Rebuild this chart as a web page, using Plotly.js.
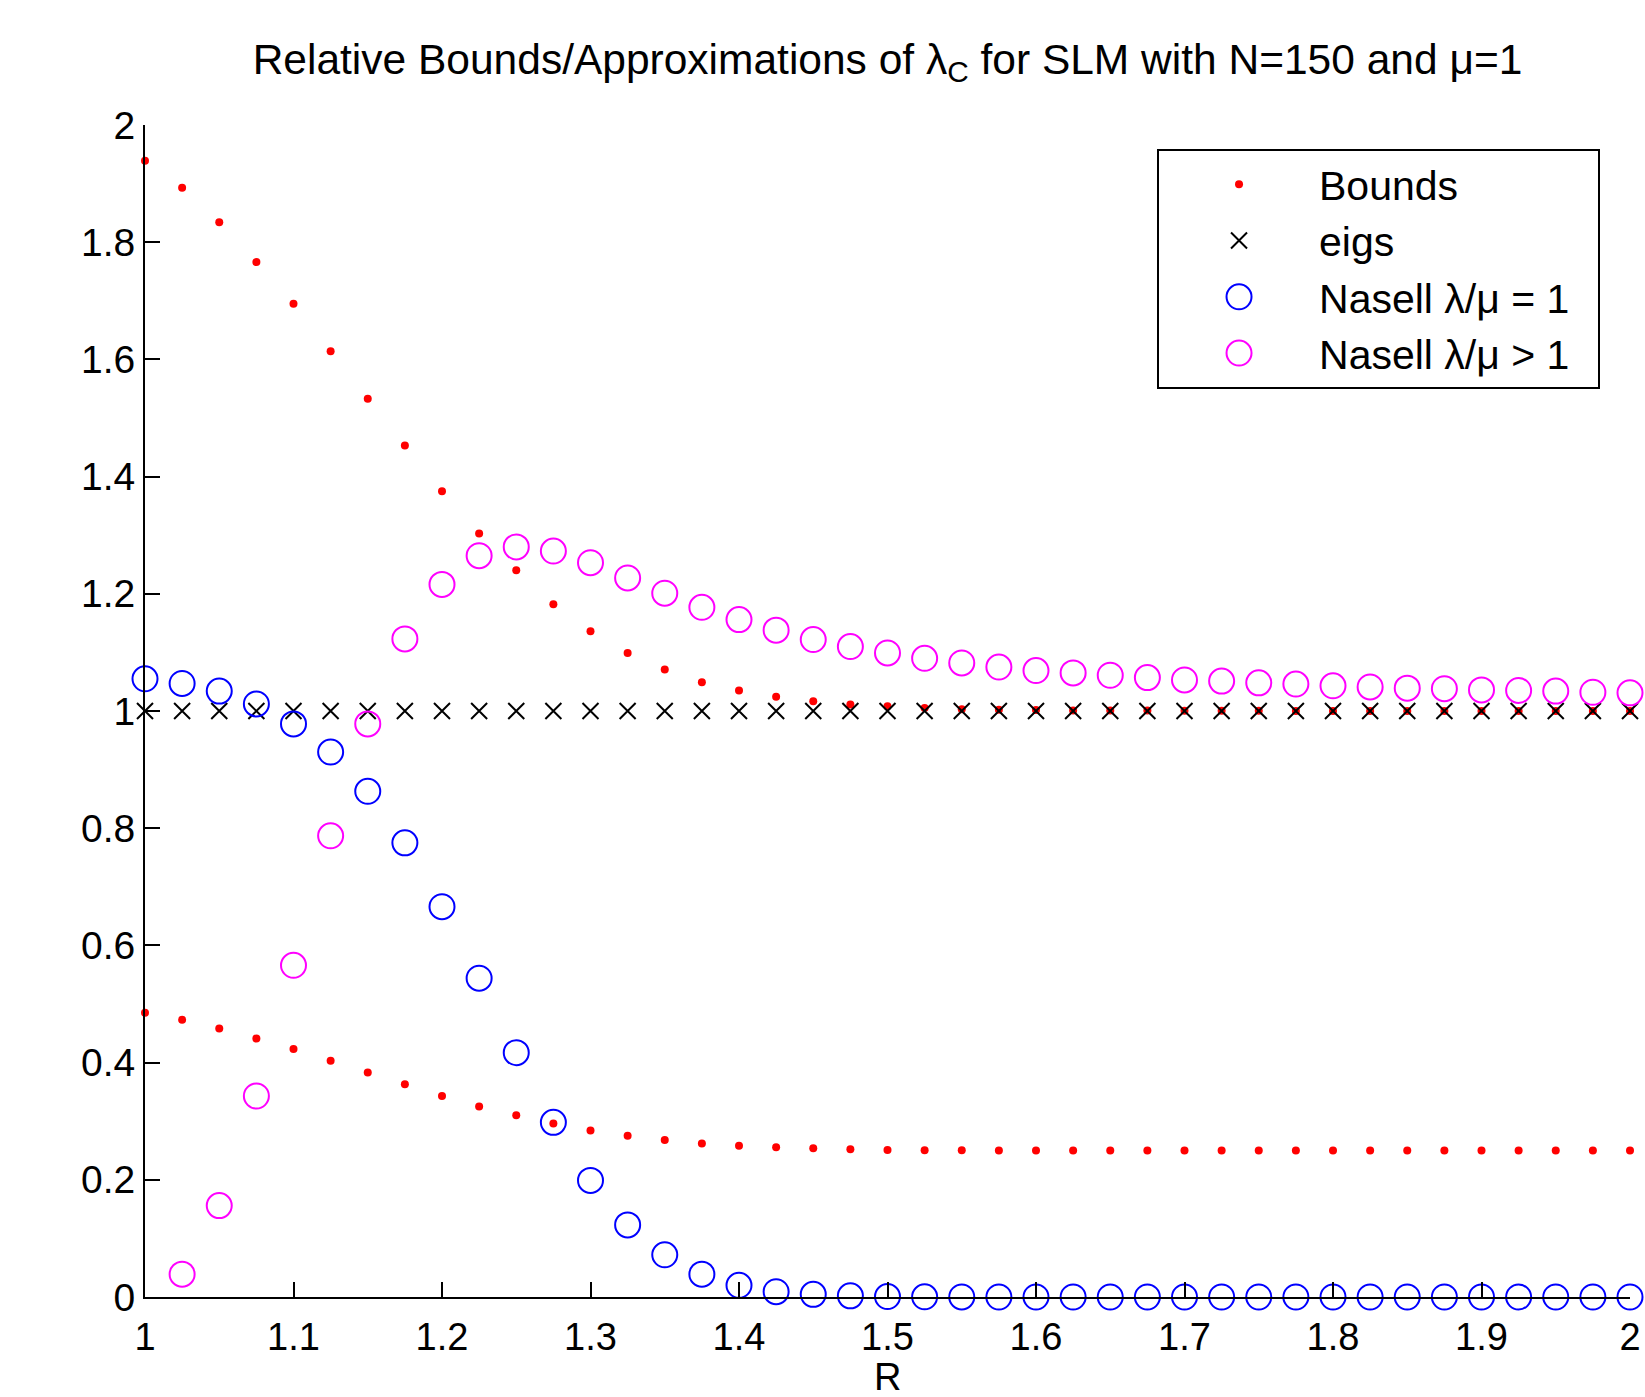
<!DOCTYPE html>
<html>
<head>
<meta charset="utf-8">
<script src="https://cdn.plot.ly/plotly-3.0.1.min.js"></script>
<style>
  html, body { margin: 0; padding: 0; background: #fff; }
  #chart { width: 1645px; height: 1397px; }
</style>
</head>
<body>
<div id="chart"></div>
<script>
// R values (x)
const R = [1.000, 1.025, 1.050, 1.075, 1.100, 1.125, 1.150, 1.175, 1.200, 1.225,
           1.250, 1.275, 1.300, 1.325, 1.350, 1.375, 1.400, 1.425, 1.450, 1.475,
           1.500, 1.525, 1.550, 1.575, 1.600, 1.625, 1.650, 1.675, 1.700, 1.725,
           1.750, 1.775, 1.800, 1.825, 1.850, 1.875, 1.900, 1.925, 1.950, 1.975, 2.000];

// Upper relative bound
const upperBound = [1.939, 1.893, 1.834, 1.766, 1.695, 1.614, 1.533, 1.453, 1.375, 1.303,
                    1.240, 1.182, 1.136, 1.099, 1.071, 1.049, 1.035, 1.0245, 1.0165, 1.011,
                    1.008, 1.005, 1.003, 1.002, 1.0015, 1.001, 1.001, 1.0007, 1.0005, 1.0004,
                    1.0003, 1.0002, 1.0002, 1.0001, 1.0001, 1.0001, 1.0, 1.0, 1.0, 1.0, 1.0];

// Lower relative bound
const lowerBound = [0.485, 0.473, 0.458, 0.441, 0.423, 0.403, 0.383, 0.363, 0.343, 0.325,
                    0.310, 0.296, 0.284, 0.275, 0.268, 0.262, 0.258, 0.2555, 0.254, 0.252,
                    0.251, 0.2505, 0.2503, 0.2502, 0.2501, 0.2501, 0.25, 0.25, 0.25, 0.25,
                    0.25, 0.25, 0.25, 0.25, 0.25, 0.25, 0.25, 0.25, 0.25, 0.25, 0.25];

// eigs (relative, exact)
const eigs = [1, 1, 1, 1, 1, 1, 1, 1, 1, 1,
              1, 1, 1, 1, 1, 1, 1, 1, 1, 1,
              1, 1, 1, 1, 1, 1, 1, 1, 1, 1,
              1, 1, 1, 1, 1, 1, 1, 1, 1, 1, 1];

// Nasell approximation, lambda/mu = 1
const nasellEq = [1.055, 1.047, 1.034, 1.012, 0.978, 0.930, 0.863, 0.775, 0.666, 0.544,
                  0.417, 0.298, 0.199, 0.123, 0.072, 0.039, 0.020, 0.009, 0.0045, 0.002,
                  0.0008, 0.0003, 0.0001, 0, 0, 0, 0, 0, 0, 0,
                  0, 0, 0, 0, 0, 0, 0, 0, 0, 0, 0];

// Nasell approximation, lambda/mu > 1
const nasellGt = [null, 0.039, 0.156, 0.343, 0.566, 0.787, 0.978, 1.123, 1.216, 1.265,
                  1.280, 1.273, 1.253, 1.227, 1.201, 1.177, 1.156, 1.138, 1.122, 1.110,
                  1.099, 1.090, 1.082, 1.075, 1.069, 1.065, 1.061, 1.057, 1.053, 1.051,
                  1.048, 1.046, 1.043, 1.041, 1.039, 1.038, 1.036, 1.035, 1.034, 1.032, 1.031];

const xTickVals = [1, 1.1, 1.2, 1.3, 1.4, 1.5, 1.6, 1.7, 1.8, 1.9, 2];
const xTickText = ['1', '1.1', '1.2', '1.3', '1.4', '1.5', '1.6', '1.7', '1.8', '1.9', '2'];
const yTickVals = [0, 0.2, 0.4, 0.6, 0.8, 1, 1.2, 1.4, 1.6, 1.8, 2];
const yTickText = ['0', '0.2', '0.4', '0.6', '0.8', '1', '1.2', '1.4', '1.6', '1.8', '2'];

const FONT = 'Liberation Sans, Arial, Helvetica, sans-serif';
const NBSP = '\u00a0';

const traces = [
  { x: R, y: upperBound, type: 'scatter', mode: 'markers', name: 'Bounds',
    legendgroup: 'b', cliponaxis: false,
    marker: { symbol: 'circle', size: 8, color: '#ff0000' } },
  { x: R, y: lowerBound, type: 'scatter', mode: 'markers', name: 'Bounds',
    legendgroup: 'b', showlegend: false, cliponaxis: false,
    marker: { symbol: 'circle', size: 8, color: '#ff0000' } },
  { x: R, y: eigs, type: 'scatter', mode: 'markers', name: 'eigs', cliponaxis: false,
    marker: { symbol: 'x-thin', size: 16, color: '#000000', line: { color: '#000000', width: 2 } } },
  { x: R, y: nasellEq, type: 'scatter', mode: 'markers', name: 'Nasell λ/μ = 1' + NBSP + NBSP, cliponaxis: false,
    marker: { symbol: 'circle-open', size: 25, color: '#0000ff', line: { color: '#0000ff', width: 2 } } },
  { x: R, y: nasellGt, type: 'scatter', mode: 'markers', name: 'Nasell λ/μ > 1' + NBSP + NBSP, cliponaxis: false,
    marker: { symbol: 'circle-open', size: 25, color: '#ff00ff', line: { color: '#ff00ff', width: 2 } } }
];

const layout = {
  width: 1645, height: 1397,
  margin: { l: 145, r: 15, t: 125, b: 100, pad: 0 },
  paper_bgcolor: '#ffffff', plot_bgcolor: '#ffffff',
  font: { family: FONT, color: '#000000', size: 38 },
  title: {
    text: 'Relative Bounds/Approximations of λ<sub>C</sub> for SLM with N=150 and μ=1',
    font: { family: FONT, size: 42.5, color: '#000000' },
    x: 0.5, xanchor: 'center', xref: 'paper',
    y: 0.958, yanchor: 'middle', yref: 'container'
  },
  xaxis: {
    range: [1, 2], autorange: false,
    tickmode: 'array', tickvals: xTickVals, ticktext: xTickText,
    ticks: 'inside', ticklen: 15, tickwidth: 2, tickcolor: '#000000',
    ticklabelstandoff: 5,
    showline: true, linecolor: '#000000', linewidth: 2, mirror: false,
    showgrid: false, zeroline: false,
    tickfont: { family: FONT, size: 38, color: '#000000' }
  },
  yaxis: {
    range: [0, 2], autorange: false,
    tickmode: 'array', tickvals: yTickVals, ticktext: yTickText,
    ticks: 'inside', ticklen: 15, tickwidth: 2, tickcolor: '#000000',
    showline: true, linecolor: '#000000', linewidth: 2, mirror: false,
    showgrid: false, zeroline: false,
    tickfont: { family: FONT, size: 39, color: '#000000' }
  },
  annotations: [
    { text: 'R', xref: 'paper', yref: 'paper', x: 0.5, y: -0.068,
      xanchor: 'center', yanchor: 'middle', showarrow: false,
      height: 40, valign: 'middle', borderpad: 0,
      font: { family: FONT, size: 38, color: '#000000' } }
  ],
  showlegend: true,
  legend: {
    x: 0.6815, xanchor: 'left', y: 0.9795, yanchor: 'top',
    bgcolor: '#ffffff', bordercolor: '#000000', borderwidth: 2,
    font: { family: FONT, size: 41, color: '#000000' },
    itemwidth: 150, itemsizing: 'trace', tracegroupgap: 0
  }
};

Plotly.newPlot('chart', traces, layout, { staticPlot: true, displayModeBar: false }).then(function (gd) {
  // Legend symbols are capped at 16px by Plotly; scale them up to the trace's marker size.
  gd.querySelectorAll('.legend .traces').forEach(function (g) {
    const d = g.__data__;
    if (!d || !d[0] || !d[0].trace) return;
    const tr = d[0].trace;
    const sz = tr.marker && tr.marker.size;
    if (sz && sz > 16) {
      const k = sz / 16;
      g.querySelectorAll('.legendpoints path').forEach(function (p) {
        const t = p.getAttribute('transform') || '';
        p.setAttribute('transform', t + ' scale(' + k + ')');
        p.setAttribute('vector-effect', 'non-scaling-stroke');
        p.style.vectorEffect = 'non-scaling-stroke';
      });
    }
  });
});
</script>
</body>
</html>
